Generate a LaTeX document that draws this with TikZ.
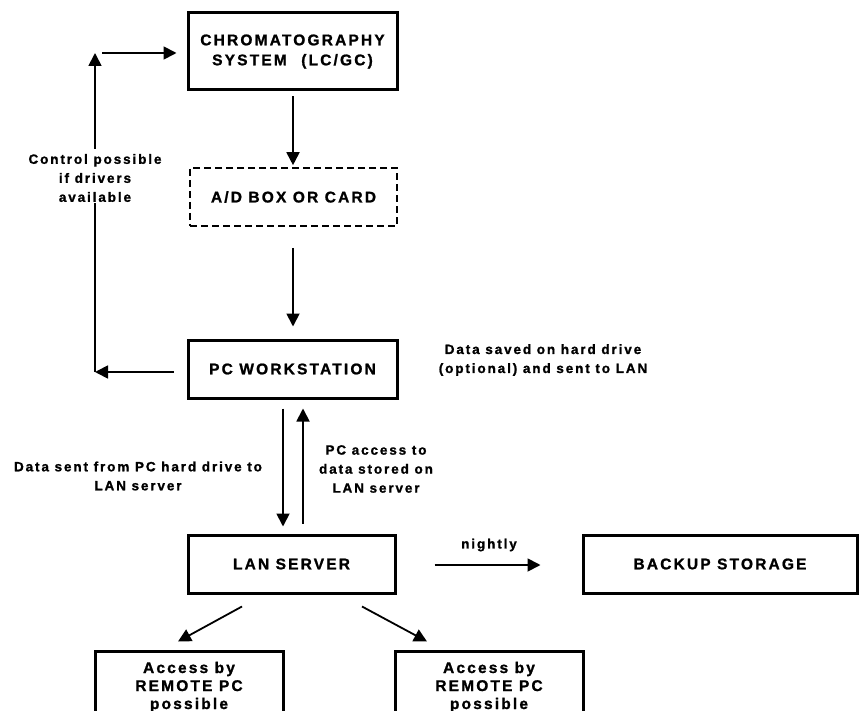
\documentclass[tikz,border=0pt]{standalone}
\usepackage{fontspec}
\setmainfont{Liberation Sans}[UprightFont=* Bold, BoldFont=* Bold, LetterSpace=14, FakeBold=1.2]
\usetikzlibrary{arrows.meta,calc}
\tikzset{
  box/.style={draw, line width=3pt, minimum width=209pt, minimum height=58pt, align=center, inner sep=0pt, font=\fontsize{15.5}{20}\selectfont},
  dbox/.style={box, line width=1.6pt, dash pattern=on 7pt off 4pt},
  arr/.style={line width=1.8pt, -{Triangle[length=13pt,width=13pt]}},
  ln/.style={line width=1.8pt},
  lbl/.style={align=center, inner sep=1pt, font=\fontsize{13.5}{19}\selectfont}
}
\begin{document}
\begin{tikzpicture}[x=1pt,y=-1pt]
\useasboundingbox (0,0) rectangle (861,711);
\clip (0,0) rectangle (861,711);
\node[box, minimum height=77pt] (chrom) at (292.5,51.5) {CHROMATOGRAPHY\\SYSTEM\hspace{8pt} (LC/GC)};
\node[dbox, minimum width=207pt] (ad) at (293.5,197) {A/D BOX OR CARD};
\node[box] (pc) at (292.5,369) {PC WORKSTATION};
\node[box, minimum width=207pt] (lan) at (291.5,564) {LAN SERVER};
\node[box, minimum width=274pt] (backup) at (720,564) {BACKUP STORAGE};
\node[box, minimum width=188pt, minimum height=72pt, font=\fontsize{15.5}{18}\selectfont] (r1) at (189,687) {Access by\\REMOTE PC\\possible};
\node[box, minimum width=188pt, minimum height=72pt, font=\fontsize{15.5}{18}\selectfont] (r2) at (489,687) {Access by\\REMOTE PC\\possible};

\node[lbl] (ctl) at (95,178) {Control possible\\if drivers\\available};
\node[lbl] (saved) at (543,360) {Data saved on hard drive\\(optional) and sent to LAN};
\node[lbl] (sent) at (138,476) {Data sent from PC hard drive to\\LAN server};
\node[lbl] (acc) at (376,469) {PC access to\\data stored on\\LAN server};
\node[lbl] (night) at (489,545) {nightly};

\coordinate (cl) at (95,372);
\coordinate (ctop) at (95,53);

\draw[arr, shorten <=5pt, shorten >=2pt] (chrom.south -| 293,0) -- (ad.north -| 293,0);
\draw[arr, shorten <=21pt, shorten >=12pt] (ad.south -| 293,0) -- (pc.north -| 293,0);
\draw[arr, shorten <=13pt] (pc.west |- cl) -- (cl);
\draw[ln] (cl) -- (ctl.south);
\draw[arr, shorten <=4pt] (ctl.north) -- (ctop);
\draw[arr, shorten <=7pt, shorten >=10pt] (ctop) -- (chrom.west |- ctop);
\draw[arr, shorten <=9pt, shorten >=7pt] (pc.south -| 283,0) -- (lan.north -| 283,0);
\draw[arr, shorten <=10pt, shorten >=9pt] (lan.north -| 303,0) -- (pc.south -| 303,0);
\draw[arr, shorten <=38pt, shorten >=41pt] (lan.east |- 0,565) -- (backup.west |- 0,565);
\draw[arr] ($(lan.south)+(-49.5,12)$) -- ($(r1.north)+(-11,-8)$);
\draw[arr] ($(lan.south)+(70.5,12)$) -- ($(r2.north)+(-62,-8)$);
\end{tikzpicture}
\end{document}
